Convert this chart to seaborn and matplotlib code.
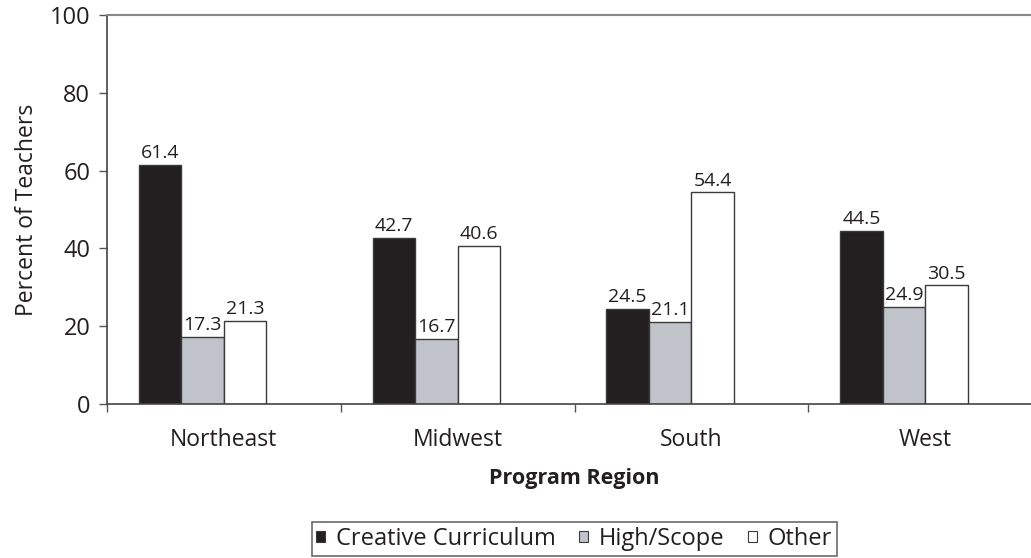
import matplotlib
matplotlib.use("Agg")
import matplotlib.pyplot as plt
import matplotlib.patches as mpatches
import numpy as np
import pandas as pd
import seaborn as sns

regions = ["Northeast", "Midwest", "South", "West"]
programs = ["Creative Curriculum", "High/Scope", "Other"]
creative = [61.4, 42.7, 24.5, 44.5]
highscope = [17.3, 16.7, 21.1, 24.9]
other = [21.3, 40.6, 54.4, 30.5]

colors = ["#231f20", "#c0c3c9", "#ffffff", "#ffffff"]
edge = "#3a3a3a"
txt = "#231f20"

df = pd.DataFrame({
    "region": regions * 3,
    "program": [p for p in programs for _ in regions],
    "value": creative + highscope + other,
})

sns.set_style("white")
plt.rcParams["font.family"] = ["Open Sans", "DejaVu Sans"]

fig = plt.figure(figsize=(10.31, 5.58), dpi=100)
ax = fig.add_axes([107 / 1031, 154 / 558, 935 / 1031, 389 / 558])

# the empty 4th level keeps the Excel-like gap on the right of each group
sns.barplot(data=df, x="region", y="value", hue="program",
            order=regions, hue_order=programs + [" "],
            palette=colors, width=0.727, edgecolor=edge, linewidth=1,
            saturation=1, ax=ax, legend=False)

for cont in ax.containers:
    ax.bar_label(cont, fmt="%.1f", padding=2, fontsize=14, color=txt)

ax.set_ylim(0, 100)
ax.set_xlim(-0.5, len(regions) - 0.5)
ax.set_yticks(range(0, 101, 20))
ax.tick_params(axis="y", labelsize=17, length=6, width=1, color="#555555",
               left=True, direction="out", labelcolor=txt, pad=6)
ax.tick_params(axis="x", which="major", length=0, labelsize=16.5, pad=17,
               labelcolor=txt)
ax.set_xticks(np.arange(len(regions)) - 0.5, minor=True)
ax.tick_params(axis="x", which="minor", length=6, width=1, color="#555555",
               bottom=True, direction="out")

for s in ["left", "bottom"]:
    ax.spines[s].set_color("#444444")
    ax.spines[s].set_linewidth(1.2)
ax.spines["top"].set_color("#8a8a8a")
ax.spines["top"].set_linewidth(1.5)
ax.spines["right"].set_visible(False)

ax.set_ylabel("Percent of Teachers", fontsize=16.5, color=txt, labelpad=8)
ax.set_xlabel("Program Region", fontsize=15.5, fontweight="bold", color=txt,
              labelpad=12)

handles = [mpatches.Patch(facecolor=colors[i], edgecolor=edge, linewidth=0.8)
           for i in range(3)]
leg = fig.legend(handles, programs, loc="lower center",
                 bbox_to_anchor=(0.557, 0.0), ncol=3, fontsize=17,
                 frameon=True, fancybox=False, edgecolor="#444444",
                 handlelength=0.38, handleheight=0.38, handletextpad=0.45,
                 columnspacing=1.0, borderpad=0.2, borderaxespad=0.1,
                 labelcolor=txt)
leg.get_frame().set_linewidth(1.2)

fig.savefig("out.png", dpi=100)
plt.close()
